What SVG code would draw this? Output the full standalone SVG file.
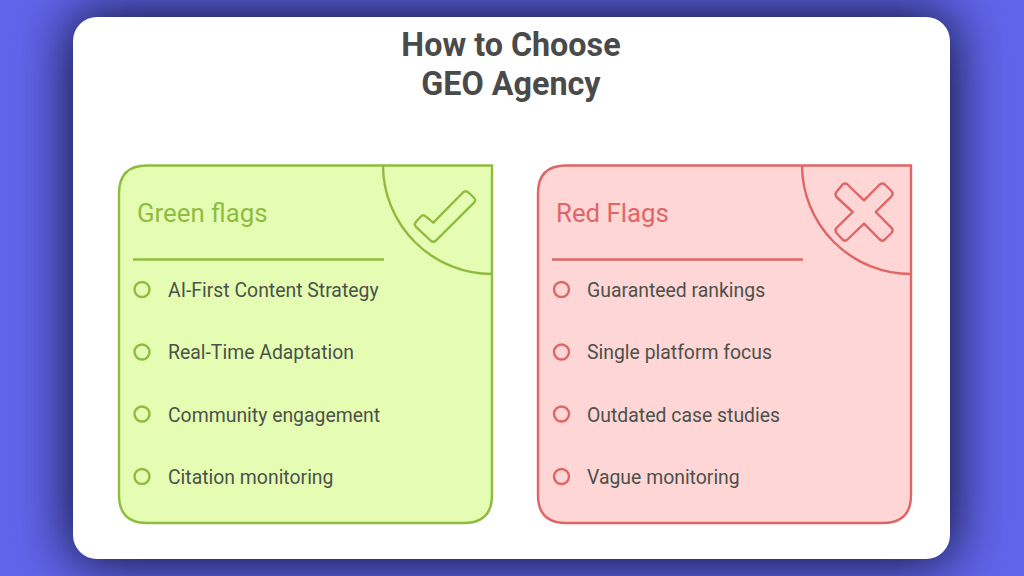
<svg xmlns="http://www.w3.org/2000/svg" width="1024" height="576" viewBox="0 0 1024 576">
<defs>
<filter id="sh" filterUnits="userSpaceOnUse" x="-150" y="-150" width="1324" height="876" color-interpolation-filters="sRGB"><feGaussianBlur stdDeviation="30"/><feComponentTransfer><feFuncA type="linear" slope="1.25"/></feComponentTransfer></filter>
</defs>
<style>
text{font-family:Roboto,"Liberation Sans",sans-serif}
.title{font-size:32.300px;font-weight:700;fill:#4a4a4a;text-anchor:middle}
.head{font-size:25.800px;font-weight:400}
.item{font-size:19.400px;font-weight:400;fill:#4c514a}
.g .ln{fill:none;stroke:#8fbc3f;stroke-width:2.400;stroke-linejoin:round}
.r .ln{fill:none;stroke:#e06666;stroke-width:2.400;stroke-linejoin:round}
.g .card{fill:#e4fdb2;stroke:#8fbc3f;stroke-width:2.400}
.r .card{fill:#ffd6d6;stroke:#e06666;stroke-width:2.400}
.g .head{fill:#8fbc3f}
.r .head{fill:#e06666}
</style>
<rect width="1024" height="576" fill="#6065ec"/>
<rect x="73" y="17" width="877" height="542" fill="#171a42" filter="url(#sh)"/>
<rect id="panel" x="73" y="17" width="877" height="542" rx="24" fill="#ffffff"/>
<g id="title">
<text class="title" x="511" y="56">How to Choose</text>
<text class="title" x="511" y="95">GEO Agency</text>
</g>
<g id="green-card" class="g">
<path class="card" d="M147 165.500H492V495Q492 523 464 523H147Q119 523 119 495V193.500Q119 165.500 147 165.500Z"/>
<path class="ln" d="M383 165.500A109 109 0 0 0 492 274"/>
<path class="ln" d="M463 192.500Q465.700 190 468.500 192.500L473.800 197.500Q476.500 200 473.800 202.800L436 240.500Q433.300 243 430.500 240.500L416 226.800Q413.500 224.300 416 221.800L420.800 216.500Q423.300 214 425.800 216.500L433.300 222.700Z"/>
<text class="head" x="137" y="222">Green flags</text>
<path class="ln" d="M133 259.500H384"/>
<g id="green-1"><circle class="ln" cx="142" cy="289.500" r="7.500"/><text class="item" x="168" y="296.500">AI-First Content Strategy</text></g>
<g id="green-2"><circle class="ln" cx="142" cy="352" r="7.500"/><text class="item" x="168" y="358.500">Real-Time Adaptation</text></g>
<g id="green-3"><circle class="ln" cx="142" cy="414" r="7.500"/><text class="item" x="168" y="421.500">Community engagement</text></g>
<g id="green-4"><circle class="ln" cx="142" cy="476.500" r="7.500"/><text class="item" x="168" y="483.500">Citation monitoring</text></g>
</g>
<g id="red-card" class="r">
<path class="card" d="M566 165.500H911V495Q911 523 883 523H566Q538 523 538 495V193.500Q538 165.500 566 165.500Z"/>
<path class="ln" d="M802 165.500A109 109 0 0 0 911 274"/>
<path class="ln" d="M842.500 184.500Q845 182.500 847.500 184.500L864 200.300L879.800 184.500Q882.300 182.500 884.800 184.500L891.500 191Q893.800 193.700 891.500 196.300L875.700 212L891.500 227.800Q893.800 230.300 891.500 233L884.800 239.500Q882.300 241.800 879.800 239.500L864 223.700L847.500 239.500Q845 241.800 842.500 239.500L836.500 233Q834.500 230.300 836.500 227.800L852.700 212L836.500 197Q834.500 194.700 836.500 192Z"/>
<text class="head" x="556" y="222">Red Flags</text>
<path class="ln" d="M552 259.500H803"/>
<g id="red-1"><circle class="ln" cx="561.500" cy="289.500" r="7.500"/><text class="item" x="587" y="296.500">Guaranteed rankings</text></g>
<g id="red-2"><circle class="ln" cx="561.500" cy="352" r="7.500"/><text class="item" x="587" y="358.500">Single platform focus</text></g>
<g id="red-3"><circle class="ln" cx="561.500" cy="414" r="7.500"/><text class="item" x="587" y="421.500">Outdated case studies</text></g>
<g id="red-4"><circle class="ln" cx="561.500" cy="476.500" r="7.500"/><text class="item" x="587" y="483.500">Vague monitoring</text></g>
</g>
</svg>
